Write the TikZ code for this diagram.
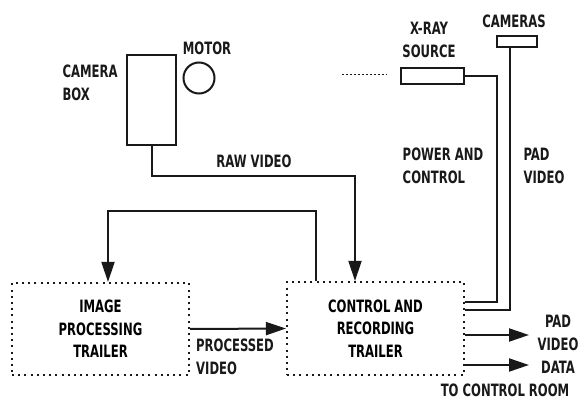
\documentclass[tikz,border=0pt]{standalone}
\usepackage{fontspec}
\setmainfont[FakeStretch=0.76]{DejaVu Sans Condensed}
\usetikzlibrary{arrows.meta,positioning}
\definecolor{paperInk}{RGB}{25,25,25}
\tikzset{
  unit/.style={draw=paperInk, line width=2pt, inner sep=0pt},
  trailer/.style={draw=paperInk, line width=2.2pt, dash pattern=on 2pt off 4.2pt, align=center, font=\bfseries\fontsize{17}{22.5}\selectfont, minimum width=177pt},
  lbl/.style={align=center, font=\bfseries\fontsize{17}{22.5}\selectfont, text=paperInk, inner sep=0pt},
  wire/.style={draw=paperInk, line width=2pt},
  flow/.style={wire, -{Triangle[length=20pt, width=13pt]}}
}
\begin{document}
\begin{tikzpicture}[x=1pt, y=-1pt]
  \useasboundingbox (0,0) rectangle (581,401);
  % units on the pad
  \node[unit, minimum width=49pt, minimum height=90pt] (cambox) at (151.5,100) {};
  \node[unit, circle, minimum size=31pt] (motor) at (199,78) {};
  \node[unit, minimum width=63pt, minimum height=16pt] (xray) at (432.5,76) {};
  \node[unit, minimum width=40pt, minimum height=11pt] (cams) at (517,41.5) {};
  % trailers
  \node[trailer, minimum height=92pt] (ipt) at (100.5,329) {IMAGE\\PROCESSING\\TRAILER};
  \node[trailer, minimum height=93pt] (crt) at (375.5,328.5) {CONTROL AND\\RECORDING\\TRAILER};
  % labels
  \node[lbl, align=left] (camlbl) at (90,83) {CAMERA\\BOX};
  \node[lbl] (motlbl) at (207,48) {MOTOR};
  \node[lbl] (xraylbl) at (429,40) {X-RAY\\SOURCE};
  \node[lbl] (camslbl) at (514,21) {CAMERAS};
  \node[lbl] (rawlbl) at (254,161) {RAW VIDEO};
  \node[lbl, align=left] (pwrlbl) at (443,166) {POWER AND\\CONTROL};
  \node[lbl, align=left] (padlbl) at (544,166) {PAD\\VIDEO};
  \node[lbl, align=left] (proclbl) at (235,357) {PROCESSED\\VIDEO};
  \node[lbl] (outlbl) at (558,333) {PAD\\VIDEO};
  \node[lbl] (datalbl) at (558,367) {DATA};
  \node[lbl] (roomlbl) at (505,390) {TO CONTROL ROOM};
  % connectors
  \coordinate (rawturn) at (355,176);
  \coordinate (loopR) at (316,211);
  \coordinate (loopL) at (108,211);
  \coordinate (pwr) at (497,302);
  \coordinate (padc) at (510,310);
  \coordinate (outA) at (529,335);
  \coordinate (outB) at (529,365);
  \coordinate (dotL) at (342,75);
  \coordinate (dotR) at (387,75);
  \draw[flow] (cambox.south) |- (rawturn) -- (rawturn |- crt.north);
  \draw[flow] (loopR |- crt.north) -- (loopR) -- (loopL) -- (loopL |- ipt.north);
  \draw[flow] (ipt.east) -- (crt.west);
  \draw[wire] (xray.east) -| (pwr) -- (pwr -| crt.east);
  \draw[wire] (padc |- cams.south) -- (padc) -- (padc -| crt.east);
  \draw[flow] (outA -| crt.east) -- (outA);
  \draw[flow] (outB -| crt.east) -- (outB);
  \draw[paperInk, line width=1pt, dash pattern=on 1.5pt off 2.5pt] (dotL) -- (dotR);
\end{tikzpicture}
\end{document}
